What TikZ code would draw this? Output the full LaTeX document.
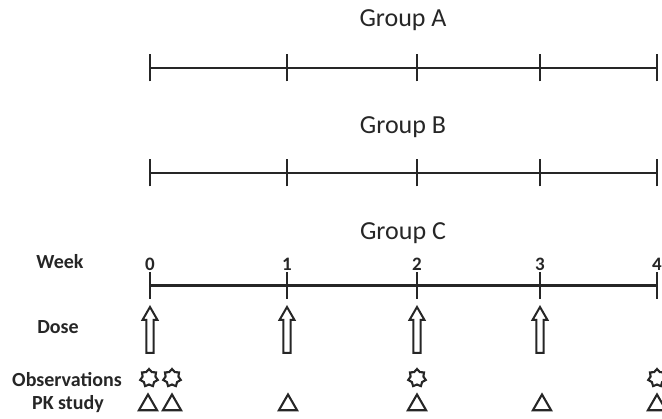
\documentclass[tikz,border=0pt]{standalone}
\usepackage{fontspec}
\setmainfont{Carlito}
\usetikzlibrary{shapes.geometric}

\tikzset{
  axis/.style={line width=2.8pt, color=black!85},
  tick/.style={line width=2.8pt, color=black!85},
  grouplabel/.style={font=\fontsize{26}{30}\selectfont, text=black!85},
  rowlabel/.style={font=\bfseries\fontsize{20}{24}\selectfont, text=black!85},
  weeknum/.style={font=\bfseries\fontsize{19}{21}\selectfont, text=black!85, inner sep=0pt},
  obsmark/.style={star, star points=7, star point ratio=1.38, minimum size=18pt,
    inner sep=0pt, draw=black!85, line width=2.1pt},
  pkmark/.style={regular polygon, regular polygon sides=3, minimum size=21pt,
    inner sep=0pt, draw=black!85, line width=2.1pt},
  arrowline/.style={draw=black!85, line width=2pt, line join=miter, fill=white},
  dosearrow/.pic={
    \path[arrowline] (0,0) -- (-7.5,13) -- (-3.6,13) -- (-3.6,46) -- (3.6,46)
      -- (3.6,13) -- (7.5,13) -- cycle;
  }
}

\begin{document}
\begin{tikzpicture}[x=1pt, y=-1pt]
\useasboundingbox (0,0) rectangle (662,419);
\clip (0,0) rectangle (662,419);

% tick positions along each time line
\foreach \w/\x in {0/150,1/287,2/417,3/540,4/657}{
  \coordinate (xa\w) at (\x,68);
  \coordinate (xb\w) at (\x,173);
  \coordinate (xc\w) at (\x,285.5);
}

% group titles
\node[grouplabel] (ga) at (403,20) {Group A};
\node[grouplabel] (gb) at (403,127) {Group B};
\node[grouplabel] (gc) at (403,233) {Group C};

% time lines with weekly ticks
\foreach \g in {a,b,c}{
  \draw[axis] (x\g0) -- (x\g4);
  \foreach \w in {0,...,4}{
    \draw[tick] ([yshift=-13.5pt]x\g\w) -- ([yshift=13.5pt]x\g\w);
  }
}

% week numbers above the Group C line
\foreach \w in {0,...,4}{
  \node[weeknum, anchor=south] (wk\w) at ([yshift=14.5pt]xc\w) {\w};
}

% row labels
\node[rowlabel] (lweek) at (60,262) {Week};
\node[rowlabel] (ldose) at (58,327) {Dose};
\node[rowlabel] (lobs) at (67,380) {Observations};
\node[rowlabel] (lpk) at (68,404) {PK study};

% dosing arrows
\foreach \x in {150,287,417,540}{
  \pic at (\x,307) {dosearrow};
}

% observation days
\node[obsmark] (o1) at (149,378) {};
\node[obsmark] (o2) at (172,378) {};
\node[obsmark] (o3) at (417,378) {};
\node[obsmark] (o4) at (657,378) {};

% pharmacokinetic sampling days
\node[pkmark] (p1) at (148,405) {};
\node[pkmark] (p2) at (172,405) {};
\node[pkmark] (p3) at (288,405) {};
\node[pkmark] (p4) at (417,405) {};
\node[pkmark] (p5) at (542,405) {};
\node[pkmark] (p6) at (657,405) {};
\end{tikzpicture}
\end{document}
